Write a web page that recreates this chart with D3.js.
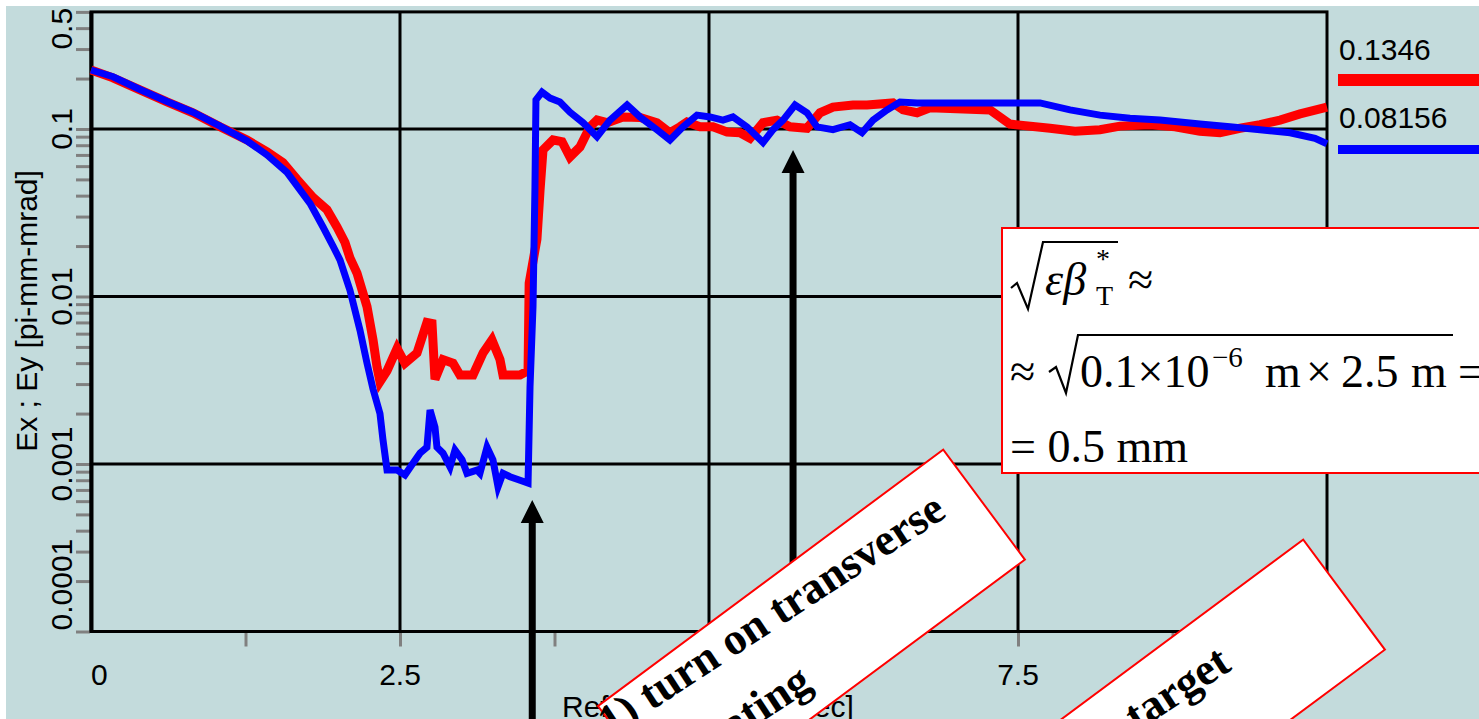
<!DOCTYPE html>
<html>
<head>
<meta charset="utf-8">
<script src="https://cdn.jsdelivr.net/npm/d3@7"></script>
<style>
    body { margin: 0; background: #fff; }
    svg { display: block; }
    .lbl { font-family: "Liberation Sans", Arial, sans-serif; font-size: 30px; fill: #000; }
    .serif { font-family: "Liberation Serif", "Times New Roman", serif; fill: #000; }
</style>
</head>
<body>
<svg id="chart" width="1479" height="719"></svg>
<script>

// emittance vs time, red = Ex, blue = Ey
const timeRed = [0, 0.178, 0.396, 0.615, 0.825, 1.044, 1.262, 1.424, 1.553, 1.667, 1.796, 1.909, 1.990,
    2.055, 2.095, 2.152, 2.233, 2.282, 2.314, 2.338, 2.395, 2.476, 2.540, 2.638, 2.718, 2.759, 2.783,
    2.848, 2.929, 2.985, 3.091, 3.172, 3.244, 3.309, 3.333, 3.471, 3.536, 3.545, 3.608, 3.633, 3.657,
    3.738, 3.811, 3.875, 3.956, 4.037, 4.094, 4.175, 4.304, 4.442, 4.579, 4.684, 4.765, 4.822, 4.927,
    5.032, 5.146, 5.251, 5.332, 5.437, 5.550, 5.655, 5.793, 5.898, 6.003, 6.165, 6.278, 6.489, 6.570,
    6.683, 6.788, 7.273, 7.435, 7.759, 7.961, 8.163, 8.325, 8.568, 8.770, 8.972, 9.134, 9.296, 9.458,
    9.620, 9.782, 10.0];
const emitRed = [0.225, 0.202, 0.171, 0.145, 0.125, 0.103, 0.086, 0.073, 0.063, 0.050, 0.039, 0.033, 0.026,
    0.021, 0.017, 0.0138, 0.0087, 0.0055, 0.0038, 0.0031, 0.0036, 0.0049, 0.0040, 0.0046, 0.0070, 0.0069, 0.0032,
    0.0042, 0.0040, 0.0034, 0.0034, 0.0046, 0.0055, 0.0042, 0.0034, 0.0034, 0.0036, 0.012, 0.022, 0.043, 0.075,
    0.086, 0.084, 0.068, 0.078, 0.103, 0.113, 0.109, 0.118, 0.117, 0.109, 0.095, 0.103, 0.110, 0.103,
    0.103, 0.096, 0.095, 0.088, 0.109, 0.113, 0.103, 0.101, 0.125, 0.135, 0.139, 0.139, 0.143, 0.130,
    0.125, 0.134, 0.130, 0.107, 0.101, 0.097, 0.099, 0.104, 0.106, 0.103, 0.097, 0.095, 0.101, 0.106,
    0.113, 0.123, 0.135];

const timeBlue = [0, 0.178, 0.396, 0.615, 0.825, 1.044, 1.262, 1.424, 1.586, 1.772, 1.877, 1.958, 2.015,
    2.095, 2.176, 2.233, 2.282, 2.338, 2.362, 2.395, 2.476, 2.540, 2.605, 2.662, 2.718, 2.743, 2.783,
    2.799, 2.848, 2.905, 2.945, 3.002, 3.042, 3.123, 3.147, 3.204, 3.252, 3.293, 3.333, 3.390, 3.471,
    3.536, 3.552, 3.576, 3.592, 3.600, 3.649, 3.714, 3.794, 3.875, 3.981, 4.094, 4.199, 4.337, 4.442,
    4.579, 4.684, 4.790, 4.903, 5.008, 5.113, 5.194, 5.307, 5.437, 5.518, 5.599, 5.696, 5.793, 5.874,
    6.003, 6.141, 6.238, 6.327, 6.440, 6.545, 6.683, 6.950, 7.354, 7.678, 7.921, 8.163, 8.406, 8.649,
    8.972, 9.215, 9.458, 9.701, 9.903, 10.0];
const emitBlue = [0.225, 0.205, 0.172, 0.146, 0.126, 0.104, 0.085, 0.070, 0.055, 0.036, 0.026, 0.020, 0.0165,
    0.0109, 0.0063, 0.0040, 0.0028, 0.0020, 0.0014, 0.00092, 0.00092, 0.00086, 0.00101, 0.00116, 0.00126, 0.0021, 0.00166,
    0.00126, 0.00116, 0.00096, 0.00121, 0.00106, 0.00088, 0.00092, 0.00088, 0.00126, 0.00106, 0.00073, 0.00088, 0.00084, 0.00080,
    0.00077, 0.0029, 0.0087, 0.045, 0.149, 0.166, 0.153, 0.145, 0.126, 0.109, 0.090, 0.113, 0.139, 0.118,
    0.099, 0.086, 0.103, 0.121, 0.118, 0.113, 0.118, 0.103, 0.083, 0.099, 0.113, 0.139, 0.125, 0.103,
    0.099, 0.106, 0.095, 0.113, 0.130, 0.145, 0.143, 0.143, 0.143, 0.143, 0.130, 0.121, 0.116, 0.113,
    0.107, 0.103, 0.099, 0.095, 0.088, 0.0816];

const xTickValues = [0, 2.5, 5, 7.5, 10];
const xTickLabels = ["0", "2.5", "5", "7.5", "10"];
const xMinorTicks = [1.25, 2.5, 3.75, 5, 6.25, 7.5, 8.75];
const yTickValues = [0.0001, 0.001, 0.01, 0.1, 0.5];
const yTickLabels = ["0.0001", "0.001", "0.01", "0.1", "0.5"];
const xGrid = [2.5, 5, 7.5];
const yGrid = [0.001, 0.01, 0.1];
const legendLabels = ["0.1346", "0.08156"];
const seriesColors = ["#ff0000", "#0000ff"];
// arrows point at these times
const arrowTimes = [3.57, 5.68];
const arrowTipValues = [0.00061, 0.075];


/** Class drawing the emittance plot. */
class EmittancePlot {
    constructor(svg) {
        this.svg = svg;
        this.x = d3.scaleLinear().domain([0, 10]).range([91, 1327]);
        this.y = d3.scaleLog().domain([0.0001, 0.5]).range([631.5, 11.9]);
    }

    drawFrame() {
        let x = this.x, y = this.y;
        let svg = this.svg;

        svg.append("rect")
            .attr("x", 6).attr("y", 6)
            .attr("width", 1479 - 6).attr("height", 719 - 6)
            .attr("fill", "#c3dbdc");

        // gray minor ticks
        let yMinor = y.ticks().filter(d => d <= 0.5);
        let yAxis = svg.append("g")
            .attr("transform", "translate(" + (x(0) - 1) + ",0)")
            .call(d3.axisLeft(y).tickValues(yMinor).tickSize(14).tickFormat(""));
        yAxis.select(".domain").remove();
        yAxis.selectAll("line").attr("stroke", "#808080").attr("stroke-width", 3);

        let xAxis = svg.append("g")
            .attr("transform", "translate(0," + (y(0.0001) + 1) + ")")
            .call(d3.axisBottom(x).tickValues(xMinorTicks).tickSize(14).tickFormat(""));
        xAxis.select(".domain").remove();
        xAxis.selectAll("line").attr("stroke", "#808080").attr("stroke-width", 3);

        svg.selectAll(".gx").data(xGrid).enter().append("line")
            .attr("x1", d => x(d)).attr("x2", d => x(d))
            .attr("y1", y(0.5)).attr("y2", y(0.0001))
            .attr("stroke", "#000").attr("stroke-width", 3);
        svg.selectAll(".gy").data(yGrid).enter().append("line")
            .attr("x1", x(0)).attr("x2", x(10))
            .attr("y1", d => y(d)).attr("y2", d => y(d))
            .attr("stroke", "#000").attr("stroke-width", 3);

        svg.append("rect")
            .attr("x", x(0)).attr("y", y(0.5))
            .attr("width", x(10) - x(0)).attr("height", y(0.0001) - y(0.5))
            .attr("fill", "none").attr("stroke", "#000").attr("stroke-width", 3);
        svg.append("line")
            .attr("x1", x(0) + 0.5).attr("x2", x(0) + 0.5)
            .attr("y1", y(0.5)).attr("y2", y(0.0001))
            .attr("stroke", "#000").attr("stroke-width", 4);

        // tick labels
        svg.selectAll(".ylab").data(yTickValues).enter().append("text")
            .attr("class", "lbl")
            .attr("text-anchor", (d, i) => i == 0 ? "start" : (i == yTickValues.length - 1 ? "end" : "middle"))
            .attr("transform", (d, i) => {
                let p = y(d);
                if (i == 0) p -= 1;
                if (i == yTickValues.length - 1) p -= 4;
                return "translate(72," + p + ") rotate(-90)";
            })
            .text((d, i) => yTickLabels[i]);

        svg.selectAll(".xlab").data(xTickValues).enter().append("text")
            .attr("class", "lbl")
            .attr("x", d => x(d))
            .attr("y", 685)
            .attr("text-anchor", (d, i) => i == 0 ? "start" : (i == xTickValues.length - 1 ? "end" : "middle"))
            .text((d, i) => xTickLabels[i]);

        svg.append("text").attr("class", "lbl")
            .attr("text-anchor", "middle")
            .attr("transform", "translate(37,311) rotate(-90)")
            .text("Ex ; Ey [pi-mm-mrad]");
        svg.append("text").attr("class", "lbl")
            .attr("x", 562).attr("y", 717)
            .text("Reference time [nsec]");
    }

    drawCurves() {
        let x = this.x, y = this.y;
        let line = d3.line()
            .x(d => x(d[0]))
            .y(d => y(d[1]));

        let red = d3.zip(timeRed, emitRed);
        let blue = d3.zip(timeBlue, emitBlue);

        this.svg.append("path").datum(red)
            .attr("d", line)
            .attr("fill", "none").attr("stroke", seriesColors[0])
            .attr("stroke-width", 9).attr("stroke-linejoin", "miter");
        this.svg.append("path").datum(blue)
            .attr("d", line)
            .attr("fill", "none").attr("stroke", seriesColors[1])
            .attr("stroke-width", 7).attr("stroke-linejoin", "miter");

        // legend on the right
        let legendY = [60, 128];
        let lineY = [80, 149.5];
        let lineW = [12, 9];
        for (let i = 0; i < legendLabels.length; i++) {
            this.svg.append("text").attr("class", "lbl")
                .attr("x", 1339).attr("y", legendY[i])
                .text(legendLabels[i]);
            this.svg.append("line")
                .attr("x1", 1338).attr("x2", 1479)
                .attr("y1", lineY[i]).attr("y2", lineY[i])
                .attr("stroke", seriesColors[i]).attr("stroke-width", lineW[i]);
        }
    }

    drawArrow(cx, tip, bottom) {
        let p = "M" + cx + "," + tip
            + " L" + (cx + 11.5) + "," + (tip + 23)
            + " L" + (cx + 3.5) + "," + (tip + 23)
            + " L" + (cx + 3.5) + "," + bottom
            + " L" + (cx - 3.5) + "," + bottom
            + " L" + (cx - 3.5) + "," + (tip + 23)
            + " L" + (cx - 11.5) + "," + (tip + 23) + " Z";
        this.svg.append("path").attr("d", p).attr("fill", "#000");
    }

    drawNotes() {
        let svg = this.svg;
        let x = this.x, y = this.y;

        for (let i = 0; i < arrowTimes.length; i++) {
            this.drawArrow(x(arrowTimes[i]), y(arrowTipValues[i]), 719);
        }

        // formula box
        svg.append("rect")
            .attr("x", 1002).attr("y", 228)
            .attr("width", 500).attr("height", 245)
            .attr("fill", "#fff").attr("stroke", "#ff0000").attr("stroke-width", 2);

        let f = svg.append("g");
        f.append("path")
            .attr("d", "M1011,288 L1017,283 L1028,309 L1043,242 L1118,242")
            .attr("fill", "none").attr("stroke", "#000").attr("stroke-width", 2.2);
        f.append("text").attr("class", "serif")
            .attr("x", 1045).attr("y", 295)
            .style("font-size", "46px").style("font-style", "italic")
            .text("εβ");
        f.append("text").attr("class", "serif")
            .attr("x", 1096).attr("y", 268)
            .style("font-size", "28px").text("*");
        f.append("text").attr("class", "serif")
            .attr("x", 1096).attr("y", 305)
            .style("font-size", "28px").text("T");
        f.append("text").attr("class", "serif")
            .attr("x", 1128).attr("y", 295)
            .style("font-size", "46px").text("≈");

        f.append("text").attr("class", "serif")
            .attr("x", 1010).attr("y", 387)
            .style("font-size", "46px").text("≈");
        f.append("path")
            .attr("d", "M1049,372 L1056,367 L1066,393 L1078,335 L1453,335")
            .attr("fill", "none").attr("stroke", "#000").attr("stroke-width", 2.2);
        let pieces = [[1080, "0.1×10"], [1265, "m"], [1306, "×"], [1341, "2.5"], [1411, "m"], [1458, "="]];
        for (let p of pieces) {
            f.append("text").attr("class", "serif")
                .attr("x", p[0]).attr("y", 387)
                .style("font-size", "46px").text(p[1]);
        }
        f.append("text").attr("class", "serif")
            .attr("x", 1212).attr("y", 367)
            .style("font-size", "29px").text("−6");

        f.append("text").attr("class", "serif")
            .attr("x", 1010).attr("y", 462)
            .style("font-size", "46px").text("= 0.5 mm");

        // rotated note boxes
        svg.append("rect")
            .attr("transform", "translate(598,706) rotate(-36.6)")
            .attr("width", 430).attr("height", 137)
            .attr("fill", "#fff").attr("stroke", "#ff0000").attr("stroke-width", 2);
        let ta = svg.append("g").attr("transform", "translate(948,516) rotate(-33.3)");
        ta.append("text").attr("class", "serif")
            .attr("text-anchor", "end")
            .style("font-size", "45px").style("font-weight", "bold")
            .text("1) turn on transverse");
        ta.append("text").attr("class", "serif")
            .attr("x", -349).attr("y", 70)
            .style("font-size", "45px").style("font-weight", "bold")
            .text("heating");

        svg.append("rect")
            .attr("transform", "translate(958,796) rotate(-36.6)")
            .attr("width", 430).attr("height", 137)
            .attr("fill", "#fff").attr("stroke", "#ff0000").attr("stroke-width", 2);
        let tb = svg.append("g").attr("transform", "translate(1233,669) rotate(-33.3)");
        tb.append("text").attr("class", "serif")
            .attr("text-anchor", "end")
            .style("font-size", "45px").style("font-weight", "bold")
            .text("target");
    }
}

let plot = new EmittancePlot(d3.select("#chart"));
plot.drawFrame();
plot.drawCurves();
plot.drawNotes();

</script>
</body>
</html>
